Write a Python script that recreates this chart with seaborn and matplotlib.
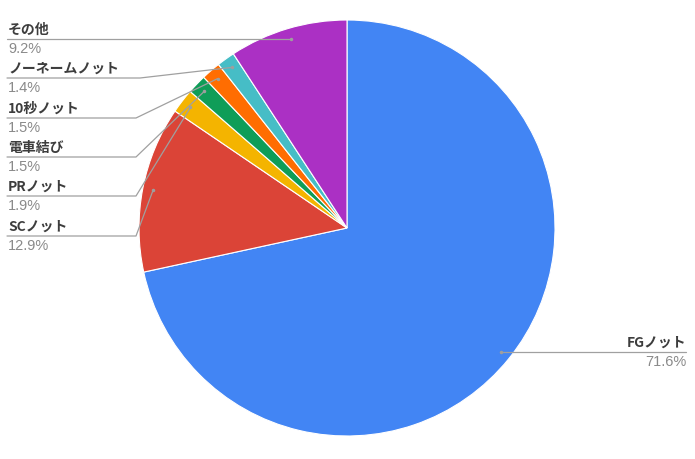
import numpy as np
import matplotlib
matplotlib.use("Agg")
import matplotlib.pyplot as plt
import seaborn as sns

# データ (12時の位置から時計回り)
labels = ["FGノット", "SCノット", "PRノット", "電車結び", "10秒ノット", "ノーネームノット", "その他"]
shares = [71.6, 12.9, 1.9, 1.5, 1.5, 1.4, 9.2]
pct_labels = ["71.6%", "12.9%", "1.9%", "1.5%", "1.5%", "1.4%", "9.2%"]
colors = ["#4285f4", "#db4437", "#f4b400", "#0f9d58", "#ff6d01", "#46bdc6", "#ab30c4"]

sns.set_theme(style="white")
plt.rcParams['font.family'] = ['Noto Sans CJK JP', 'DejaVu Sans']

W, H = 695, 460
fig = plt.figure(figsize=(W / 100, H / 100), dpi=100)

# 円の中心と半径 (ピクセル)
cx, cy, R = 347, 229, 208
ax = fig.add_axes([(cx - R) / W, (H - cy - R) / H, 2 * R / W, 2 * R / H])
wedges, _ = ax.pie(shares, colors=colors, startangle=90, counterclock=False,
                   wedgeprops=dict(linewidth=0.8, edgecolor="white"))
ax.set_xlim(-1, 1)
ax.set_ylim(-1, 1)
ax.set_aspect("equal")
ax.axis("off")


def px(x, y):
    # ピクセル座標 -> 円のデータ座標
    return (x - cx) / R, (cy - y) / R


def to_px(x, y):
    return cx + x * R, cy - y * R


name_kw = dict(fontsize=10, fontweight="bold", color="#3d3d3d", family=['Noto Sans CJK JP', 'DejaVu Sans'])
pct_kw = dict(fontsize=10.5, color="#8a8a8a", family=['Liberation Sans', 'DejaVu Sans'])
line_color = "#a0a0a0"

# 左側のラベル (上から その他 ... SCノット)
left_rows = {6: 40, 5: 79, 4: 119, 3: 158, 2: 197, 1: 237}
elbow_x = {6: None, 5: 140, 4: 136, 3: 136, 2: 136, 1: 136}

for i, w in enumerate(wedges):
    mid = np.deg2rad((w.theta1 + w.theta2) / 2)
    dot = (0.95 * np.cos(mid), 0.95 * np.sin(mid))
    dx, dy = to_px(*dot)
    if i in left_rows:
        ly = left_rows[i]
        if elbow_x[i] is None:
            pts = [px(7, dy), dot]
            ly = dy
        else:
            pts = [px(7, ly), px(elbow_x[i], ly), dot]
        xs, ys = zip(*pts)
        ax.plot(xs, ys, color=line_color, lw=0.9, clip_on=False, zorder=3)
        ax.text(*px(8, ly - 3), labels[i], ha="left", va="bottom", clip_on=False, **name_kw)
        ax.text(*px(8, ly + 2), pct_labels[i], ha="left", va="top", clip_on=False, **pct_kw)
    else:
        # FGノットは右側
        ax.plot([dot[0], px(686, 0)[0]], [dot[1]] * 2,
                color=line_color, lw=0.9, clip_on=False, zorder=3)
        ax.text(*px(686, dy - 3), labels[i], ha="right", va="bottom", clip_on=False, **name_kw)
        ax.text(*px(686, dy + 2), pct_labels[i], ha="right", va="top", clip_on=False, **pct_kw)
    ax.plot(*dot, "o", ms=1.5, color="#9e9e9e", zorder=4)

fig.savefig("out.png", dpi=100, facecolor="white")
